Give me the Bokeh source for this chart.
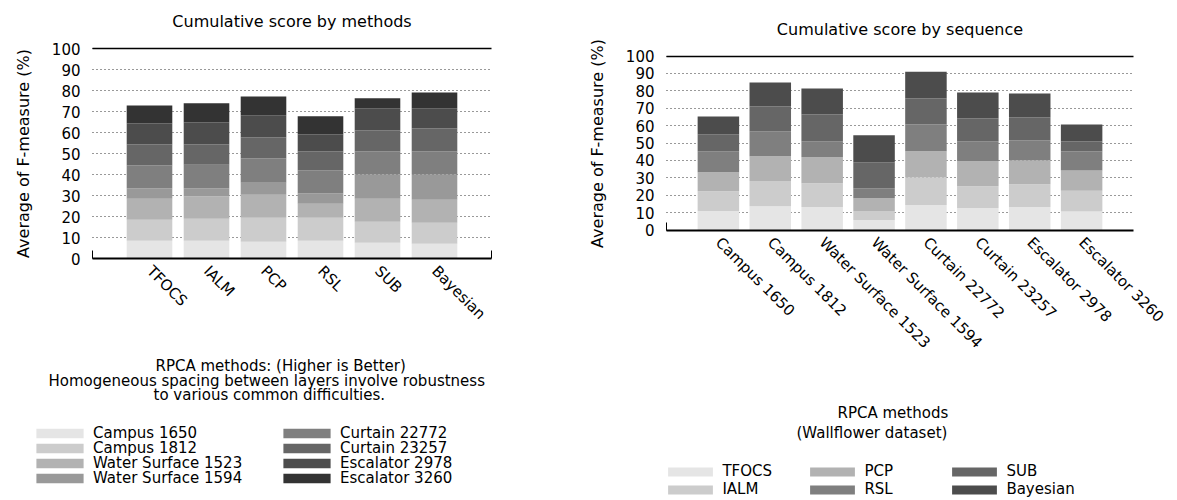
import math
from bokeh.plotting import figure
from bokeh.layouts import row
from bokeh.models import (Range1d, Legend, LegendItem, Label, LinearAxis, Grid,
                          FixedTicker)
from bokeh.embed import file_html
from bokeh.resources import INLINE

FONT = "DejaVu Sans"

# ---------------- data ----------------
methods = ["TFOCS", "IALM", "PCP", "RSL", "SUB", "Bayesian"]
sequences = ["Campus 1650", "Campus 1812", "Water Surface 1523", "Water Surface 1594",
             "Curtain 22772", "Curtain 23257", "Escalator 2978", "Escalator 3260"]

# Left chart: one layer per sequence, one value per method
campus_1650 = [8.4, 8.4, 8.0, 8.4, 7.5, 7.0]
campus_1812 = [10.1, 10.5, 11.4, 11.0, 10.0, 10.0]
water_surface_1523 = [10.0, 10.6, 11.0, 6.7, 11.0, 11.0]
water_surface_1594 = [4.8, 3.8, 5.7, 4.8, 11.5, 12.0]
curtain_22772 = [11.0, 11.4, 11.5, 11.0, 11.0, 11.0]
curtain_23257 = [10.0, 9.6, 10.0, 9.1, 10.0, 10.9]
escalator_2978 = [10.0, 10.5, 10.6, 8.1, 10.5, 9.6]
escalator_3260 = [8.6, 9.1, 9.0, 8.6, 4.8, 7.6]

# Right chart: one layer per method, one value per sequence
tfocs = [10.9, 13.7, 13.2, 5.7, 14.3, 12.6, 13.2, 10.6]
ialm = [11.4, 14.4, 13.7, 5.2, 16.0, 12.6, 13.1, 12.0]
pcp = [10.9, 14.3, 14.9, 7.4, 14.9, 14.3, 13.8, 11.6]
rsl = [12.0, 14.3, 9.2, 5.7, 15.5, 11.5, 11.4, 10.9]
sub = [9.8, 14.3, 15.4, 14.9, 14.9, 13.1, 13.2, 5.8]
bayesian = [10.3, 13.7, 14.9, 15.5, 15.4, 14.9, 13.7, 9.8]

y_ticks = [0, 10, 20, 30, 40, 50, 60, 70, 80, 90, 100]

seq_colors = ["#e5e5e5", "#cccccc", "#b2b2b2", "#999999",
              "#7f7f7f", "#666666", "#4c4c4c", "#333333"]
method_colors = ["#e5e5e5", "#cccccc", "#b2b2b2", "#7f7f7f", "#666666", "#4c4c4c"]

left_layers = [campus_1650, campus_1812, water_surface_1523, water_surface_1594,
               curtain_22772, curtain_23257, escalator_2978, escalator_3260]
right_layers = [tfocs, ialm, pcp, rsl, sub, bayesian]

left_title = "Cumulative score by methods"
right_title = "Cumulative score by sequence"
y_label = "Average of F-measure (%)"
left_legend_title = ["RPCA methods: (Higher is Better)",
                     "Homogeneous spacing between layers involve robustness",
                     "to various common difficulties."]
right_legend_title = ["RPCA methods", "(Wallflower dataset)"]

FIG_H = 500


def make_fig(categories, fig_w, plot_l, plot_r, plot_t, plot_b):
    """Whole figure is the frame; the plotting box is [plot_l, plot_r] x [plot_t, plot_b]."""
    n = len(categories)
    ppx = (plot_r - plot_l) / (n + 1)          # pixels per category slot
    ppy = (plot_b - plot_t) / 100.0             # pixels per percent
    x_range = Range1d(-1 - plot_l / ppx, n + (fig_w - plot_r) / ppx)
    y_range = Range1d(-(FIG_H - plot_b) / ppy, 100 + plot_t / ppy)
    p = figure(x_range=x_range, y_range=y_range, width=fig_w, height=FIG_H,
               min_border=0, output_backend="svg", toolbar_location=None,
               title=None)
    p.outline_line_color = None
    p.background_fill_color = "white"
    p.border_fill_color = "white"

    idx = list(range(n))
    p.xaxis.fixed_location = 0
    p.xaxis.bounds = (-1, n)
    p.xaxis.ticker = FixedTicker(ticks=idx)
    p.xaxis.major_label_overrides = {i: c for i, c in zip(idx, categories)}
    p.xaxis.major_label_orientation = -math.pi / 4
    p.xaxis.major_tick_line_color = None
    p.xaxis.minor_tick_line_color = None
    p.xaxis.axis_line_color = "black"
    p.xaxis.axis_line_width = 2
    p.xaxis.major_label_standoff = 4
    p.xaxis.major_label_text_font = FONT
    p.xaxis.major_label_text_font_size = "15px"
    p.xaxis.major_label_text_color = "black"

    p.yaxis.fixed_location = -1
    p.yaxis.bounds = (0, 100)
    p.yaxis.ticker = FixedTicker(ticks=y_ticks)
    p.yaxis.axis_line_color = None
    p.yaxis.major_tick_line_color = None
    p.yaxis.minor_tick_line_color = None
    p.yaxis.major_label_standoff = 6
    p.yaxis.major_label_text_font = FONT
    p.yaxis.major_label_text_font_size = "15px"
    p.yaxis.major_label_text_color = "black"
    p.yaxis.axis_label = y_label
    p.yaxis.axis_label_text_font = FONT
    p.yaxis.axis_label_text_font_size = "16px"
    p.yaxis.axis_label_text_font_style = "normal"
    p.yaxis.axis_label_text_color = "black"
    p.yaxis.axis_label_standoff = 16

    p.xgrid.visible = False
    p.ygrid.grid_line_dash = "1 3"
    p.ygrid.grid_line_color = "#333333"
    p.ygrid.grid_line_width = 1
    p.ygrid.cross_bounds = (-1, n)

    top = Grid(dimension=1, ticker=FixedTicker(ticks=[100]), grid_line_color="black",
               grid_line_width=1.5, cross_bounds=(-1, n))
    p.add_layout(top)
    return p, idx, ppy


def end_tick(p, loc, ppy):
    ax = LinearAxis(fixed_location=loc, bounds=(0, 8 / ppy),
                    ticker=FixedTicker(ticks=[]), axis_line_color="black",
                    axis_line_width=1, major_tick_line_color=None,
                    minor_tick_line_color=None)
    p.add_layout(ax, "left")


def text_label(p, x, y, text, align="left", size="15px"):
    p.add_layout(Label(x=x, y=y, x_units="screen", y_units="screen", text=text,
                       text_align=align, text_baseline="middle",
                       text_font=FONT, text_font_size=size, text_color="black"))


def legend_row(p, labels, rs, x, y, gw, gh, lw, lh):
    p.add_layout(Legend(items=[LegendItem(label=l, renderers=[r]) for l, r in zip(labels, rs)],
                        location=(x, y), orientation="horizontal",
                        border_line_color=None, background_fill_alpha=0,
                        padding=0, margin=0, spacing=0,
                        glyph_width=gw, glyph_height=gh, label_width=lw, label_height=lh,
                        label_standoff=4, label_text_font=FONT,
                        label_text_font_size="15px", label_text_color="black",
                        label_text_baseline="middle"), "center")


# ---------------- left figure ----------------
LW = 575
p1, idx1, ppy1 = make_fig(methods, LW, 92, 491, 48, 258)
src1 = {"x": idx1}
for name, vals in zip(sequences, left_layers):
    src1[name] = vals
r1 = p1.vbar_stack(sequences, x="x", width=0.8, color=seq_colors, line_color=None,
                   source=src1)
end_tick(p1, -1, ppy1)
end_tick(p1, len(methods), ppy1)
text_label(p1, 291.5, FIG_H - 21, left_title, "center", "16px")
for txt, lx, ly in zip(left_legend_title, [155, 48, 153], [134.5, 120, 105.5]):
    text_label(p1, lx, ly, txt)
for k in range(4):
    legend_row(p1, [sequences[k], sequences[k + 4]], [r1[k], r1[k + 4]],
               30, 58 - 15 * k, 59, 12, 184, 18)

# ---------------- right figure ----------------
RW = 602
p2, idx2, ppy2 = make_fig(sequences, RW, 91, 558, 55.5, 229.5)
src2 = {"x": idx2}
for name, vals in zip(methods, right_layers):
    src2[name] = vals
r2 = p2.vbar_stack(methods, x="x", width=0.8, color=method_colors, line_color=None,
                   source=src2)
end_tick(p2, -1, ppy2)
text_label(p2, 324.5, FIG_H - 29, right_title, "center", "16px")
for txt, lx, ly in zip(right_legend_title, [262, 221], [88, 68]):
    text_label(p2, lx, ly, txt)
for k in range(2):
    legend_row(p2, [methods[k], methods[k + 2], methods[k + 4]],
               [r2[k], r2[k + 2], r2[k + 4]], 87.4, 20 - 18 * k, 56, 11, 82, 18)

layout = row(p1, p2)
open("out.html", "w").write(file_html(layout, INLINE))
